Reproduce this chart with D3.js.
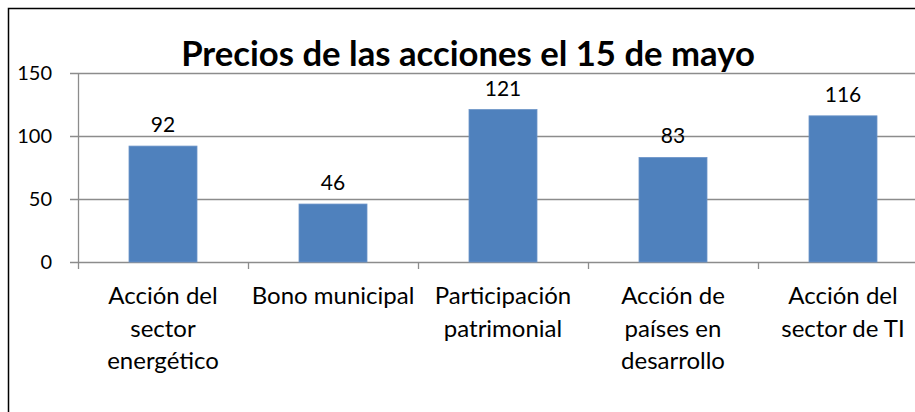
<!DOCTYPE html>
<html>
<head>
<meta charset="utf-8">
<script src="https://cdn.jsdelivr.net/npm/d3@7"></script>
<style>
  html, body { margin: 0; padding: 0; background: #fff; }
  svg { display: block; }
  text { font-family: Lato, "Open Sans", sans-serif; fill: #000; }
</style>
</head>
<body>
<script>
var width = 915,
  height = 412;

// data
var categories = [
  "Acción del sector energético",
  "Bono municipal",
  "Participación patrimonial",
  "Acción de países en desarrollo",
  "Acción del sector de TI"
];
var categoryLines = [
  ["Acción del", "sector", "energético"],
  ["Bono municipal"],
  ["Participación", "patrimonial"],
  ["Acción de", "países en", "desarrollo"],
  ["Acción del", "sector de TI"]
];
var prices = [92, 46, 121, 83, 116];
var yTicks = [0, 50, 100, 150];
var title = "Precios de las acciones el 15 de mayo";

var svg = d3.select("body").append("svg").attr("width", width).attr("height", height);

// chart frame (the picture is cropped on right and bottom)
svg.append("rect")
  .attr("x", 8.5).attr("y", 8.5)
  .attr("width", 960).attr("height", 460)
  .attr("fill", "#fff").attr("stroke", "#000").attr("stroke-width", 1.5);

var plotLeft = 78, plotRight = 928, plotTop = 73, plotBottom = 262;

var x = d3.scaleBand().domain(categories).range([plotLeft, plotRight]).paddingInner(0.6).paddingOuter(0.3);
var xEdge = d3.scaleBand().domain(categories).range([plotLeft, plotRight]).padding(0);
var y = d3.scaleLinear().domain([0, 150]).range([plotBottom, plotTop]);

// gridlines with left tick stubs
svg.append("g").selectAll("line").data(yTicks).join("line")
  .attr("x1", plotLeft - 8).attr("x2", width)
  .attr("y1", function (d) { return Math.round(y(d)) + 0.5; })
  .attr("y2", function (d) { return Math.round(y(d)) + 0.5; })
  .attr("stroke", "#8c8c8c").attr("stroke-width", 1.3);

// y tick labels
svg.append("g").selectAll("text").data(yTicks).join("text")
  .attr("x", 52).attr("y", function (d) { return y(d); })
  .attr("dy", "0.36em")
  .attr("text-anchor", "end")
  .style("font-size", "20px")
  .text(function (d) { return d; });

// bars
svg.append("g").selectAll("rect").data(prices).join("rect")
  .attr("x", function (d, i) { return x(categories[i]); })
  .attr("width", x.bandwidth())
  .attr("y", function (d) { return y(d); })
  .attr("height", function (d) { return plotBottom - y(d); })
  .attr("fill", "#4f81bd")
  .attr("stroke", "#6d95c8").attr("stroke-width", 0.8);

// y axis line
svg.append("line")
  .attr("x1", plotLeft + 0.5).attr("x2", plotLeft + 0.5)
  .attr("y1", plotTop).attr("y2", plotBottom + 7)
  .attr("stroke", "#8c8c8c").attr("stroke-width", 1.3);

// category tick marks
svg.append("g").selectAll("line").data(categories).join("line")
  .attr("x1", function (d) { return Math.round(xEdge(d) + xEdge.bandwidth()) + 0.5; })
  .attr("x2", function (d) { return Math.round(xEdge(d) + xEdge.bandwidth()) + 0.5; })
  .attr("y1", plotBottom).attr("y2", plotBottom + 7)
  .attr("stroke", "#8c8c8c").attr("stroke-width", 1.3);

// value labels
svg.append("g").selectAll("text").data(prices).join("text")
  .attr("x", function (d, i) { return x(categories[i]) + x.bandwidth() / 2; })
  .attr("y", function (d) { return y(d) - 14; })
  .attr("text-anchor", "middle")
  .style("font-size", "21px")
  .text(function (d) { return d; });

// category labels
var cat = svg.append("g").selectAll("text").data(categoryLines).join("text")
  .attr("text-anchor", "middle")
  .style("font-size", "24px")
  .attr("transform", function (d, i) {
    return "translate(" + (xEdge(categories[i]) + xEdge.bandwidth() / 2) + ",304)";
  });
cat.selectAll("tspan").data(function (d) { return d; }).join("tspan")
  .attr("x", 0)
  .attr("y", function (d, i) { return i * 32.5; })
  .text(function (d) { return d; });

// title
var t = svg.append("text")
  .attr("x", 468).attr("y", 66)
  .attr("text-anchor", "middle")
  .style("font-size", "29px").style("font-weight", "bold")
  .text(title);
var tw = t.node().getComputedTextLength();
t.style("font-size", (29 * 574 / tw) + "px");
</script>
</body>
</html>
